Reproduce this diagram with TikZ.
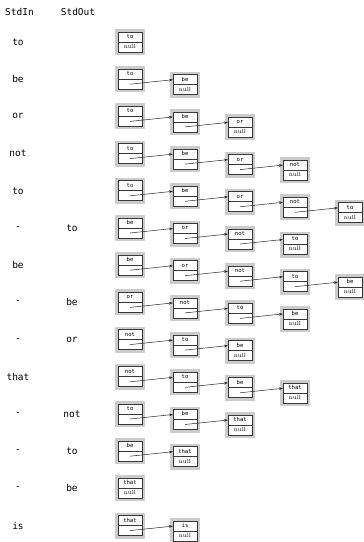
\documentclass[tikz,border=0pt]{standalone}
\usepackage{fontspec}
\setmonofont{DejaVu Sans Mono}
\usepackage{tikz}
\usetikzlibrary{arrows.meta,positioning}
\definecolor{halogray}{rgb}{0.80,0.80,0.80}
\definecolor{bordegray}{rgb}{0.22,0.22,0.22}
\tikzset{
  celda/.style={
    draw=bordegray,
    line width=.7pt,
    fill=white,
    minimum width=24pt,
    minimum height=10pt,
    inner sep=0pt,
    outer sep=0pt,
    text height=3.8pt,
    text depth=1pt
  },
  palabra/.style={
    celda,
    font=\fontsize{5.6}{5.6}\selectfont\ttfamily
  },
  enlace/.style={
    celda,
    font=\fontsize{6}{6}\selectfont\rmfamily
  },
  halo/.style={
    fill=halogray
  },
  columna/.style={
    font=\fontsize{9.5}{11}\selectfont\ttfamily
  },
  arrow/.style={
    -{Stealth[length=4pt,width=2.6pt]},
    line width=.5pt,
    black!85
  }
}
\begin{document}
\begin{tikzpicture}[x=1pt,y=-1pt]
\useasboundingbox (0,0) rectangle (364,542);
\node[columna] (hin) at (19.5,12) {StdIn};
\node[columna] (hout) at (78,12) {StdOut};
\foreach \f/\entra/\largo/\lista in {1/to/1/{to},2/be/2/{to,be},3/or/3/{to,be,or},
  4/not/4/{to,be,or,not},5/to/5/{to,be,or,not,to},6/-/4/{be,or,not,to},
  7/be/5/{be,or,not,to,be},8/-/4/{or,not,to,be},9/-/3/{not,to,be},
  10/that/4/{not,to,be,that},11/-/3/{to,be,that},12/-/2/{be,that},
  13/-/1/{that},14/is/2/{that,is}}{
  \node[columna] (ent-\f) at (18,{42+37.2*(\f-1)}) {\entra};
  \foreach \w [count=\j] in \lista {
    \pgfmathsetmacro\x{130+55*(\j-1)}
    \pgfmathsetmacro\y{37+37.2*(\f-1)+5.5*(\j-1)}
    \fill[halo] (\x-15,\y-8) rectangle (\x+15,\y+18);
    \node[palabra] (a-\f-\j) at (\x,\y) {\w};
    \ifnum\j=\largo
      \node[enlace,below=0pt of a-\f-\j] (b-\f-\j) {null};
    \else
      \node[enlace,below=0pt of a-\f-\j] (b-\f-\j) {};
    \fi
    \ifnum\j>1
      \pgfmathtruncatemacro\p{\j-1}
      \draw[arrow] (b-\f-\p.center) -- (a-\f-\j.west);
    \fi
  }
}
% salida
\foreach \f/\sale in {6/to,8/be,9/or,11/not,12/to,13/be}
  \node[columna] (sal-\f) at (72,{42+37.2*(\f-1)}) {\sale};
\end{tikzpicture}
\end{document}
